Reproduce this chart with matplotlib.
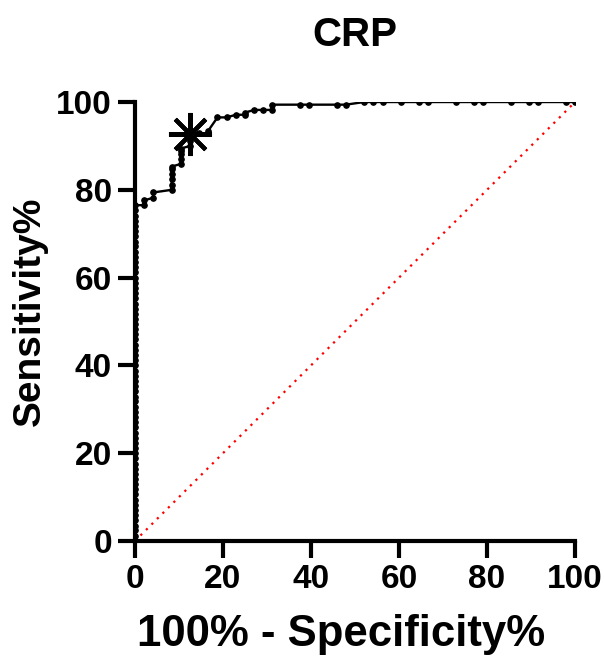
import matplotlib as mpl
mpl.use('Agg')
import matplotlib.pyplot as plt

# ROC points along the y axis (100% - specificity = 0)
sens_at_zero = [0, 1.2, 2.4, 3.5, 4.7, 5.9, 7.1, 8.2, 9.4, 10.6, 11.8, 12.9, 14.1, 15.3,
                16.5, 17.6, 18.8, 20.0, 21.2, 22.4, 23.5, 24.7, 25.9, 27.1, 28.2, 29.4,
                30.6, 31.8, 32.9, 34.1, 35.3, 36.5, 37.6, 38.8, 40.0, 41.2, 42.4, 43.5,
                44.7, 45.9, 47.1, 48.2, 49.4, 50.6, 51.8, 52.9, 54.1, 55.3, 56.5, 57.6,
                58.8, 60.0, 61.2, 62.4, 63.5, 64.7, 65.9, 67.1, 68.2, 69.4, 70.6, 71.8,
                72.9, 74.1, 75.3, 76.5]

# rest of the curve
fpr_rest = [2.08, 2.08, 4.17, 4.17, 8.33, 8.33, 8.33, 8.33, 8.33, 8.33,
            10.42, 10.42, 10.42, 10.42, 10.42, 12.5, 12.5, 12.5, 14.58, 16.67,
            16.67, 18.75, 20.83, 22.92, 25.0, 25.0, 27.08, 29.17, 31.25, 31.25,
            37.5, 39.58, 45.83, 47.92, 52.08, 54.17, 56.25, 60.42, 64.58, 66.67,
            72.92, 77.08, 79.17, 85.42, 89.58, 91.67, 97.92, 100.0]
sens_rest = [76.5, 77.6, 78.2, 79.4, 80.0, 81.2, 82.4, 83.5, 84.7, 85.3,
             85.9, 87.1, 88.2, 88.8, 89.4, 90.0, 91.2, 92.4, 92.9, 92.9,
             93.5, 96.5, 96.5, 97.1, 97.1, 97.6, 98.2, 98.2, 98.2, 99.4,
             99.4, 99.4, 99.4, 99.4, 100, 100, 100, 100, 100, 100,
             100, 100, 100, 100, 100, 100, 100, 100]

cutoff_fpr = 12.5
cutoff_sens = 92.7

fpr = [0] * len(sens_at_zero) + fpr_rest
sens = sens_at_zero + sens_rest

plt.rcParams['font.family'] = ['Liberation Sans', 'DejaVu Sans']
plt.rcParams['font.weight'] = 'bold'

fig = plt.figure(figsize=(6.04, 6.57), dpi=100)
ax = fig.add_axes([0.2235, 0.1766, 0.7285, 0.6681])

ax.plot([0, 100], [0, 100], color='red', linestyle=(0, (1, 2.5)), linewidth=1.6, zorder=1)
ax.plot(fpr, sens, color='black', linewidth=1.7, marker='o', markersize=3.8, zorder=2)
ax.plot([cutoff_fpr], [cutoff_sens], marker=(8, 2, 0), markersize=31,
        markeredgewidth=3, color='black', zorder=3)

ax.set_xlim(0, 100)
ax.set_ylim(0, 100)
ax.set_xticks([0, 20, 40, 60, 80, 100])
ax.set_yticks([0, 20, 40, 60, 80, 100])
for s in ['top', 'right']:
    ax.spines[s].set_visible(False)
for s in ['left', 'bottom']:
    ax.spines[s].set_linewidth(3)
    ax.spines[s].set_capstyle('projecting')
ax.tick_params(width=3, length=12.5, pad=4, labelsize=24)
for lab in ax.get_xticklabels() + ax.get_yticklabels():
    lab.set_fontweight('bold')

ax.set_xlabel('100% - Specificity%', fontsize=31.5, fontweight='bold')
ax.set_ylabel('Sensitivity%', fontsize=28, fontweight='bold')
ax.xaxis.set_label_coords(0.468, -0.166)
ax.yaxis.set_label_coords(-0.199, 0.524)
ax.set_title('CRP', fontsize=29, fontweight='bold', pad=40)

for sp in ax.spines.values():
    sp.set_clip_on(False)

fig.savefig('out.png', dpi=100)
